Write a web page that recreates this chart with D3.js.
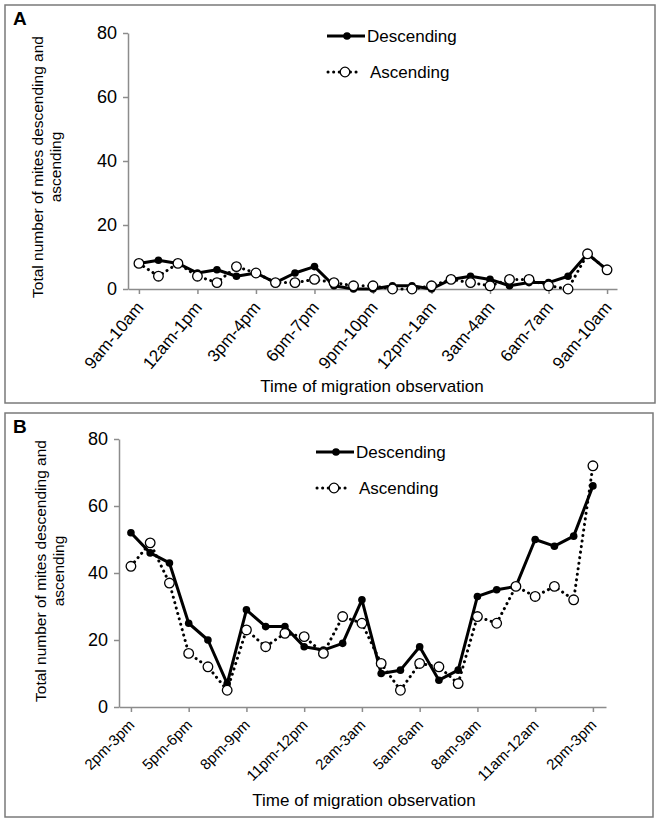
<!DOCTYPE html>
<html>
<head>
<meta charset="utf-8">
<script src="https://cdn.jsdelivr.net/npm/d3@7"></script>
<style>
  body { margin: 0; background: #fff; }
  svg { display: block; font-family: "Liberation Sans", Arial, sans-serif; }
  .axis path, .axis line { stroke: #8c8c8c; stroke-width: 1.5; }
  .axis text { fill: #000; }
</style>
</head>
<body>
<div id="container"></div>
<script>
// panel A data
var labelsA = ["9am-10am", "12am-1pm", "3pm-4pm", "6pm-7pm", "9pm-10pm", "12pm-1am", "3am-4am", "6am-7am", "9am-10am"];
var descA = [8, 9, 8, 5, 6, 4, 5, 2, 5, 7, 1, 0, 0, 1, 1, 0, 3, 4, 3, 1, 2, 2, 4, 11, 6];
var ascA = [8, 4, 8, 4, 2, 7, 5, 2, 2, 3, 2, 1, 1, 0, 0, 1, 3, 2, 1, 3, 3, 1, 0, 11, 6];

// panel B data
var labelsB = ["2pm-3pm", "5pm-6pm", "8pm-9pm", "11pm-12pm", "2am-3am", "5am-6am", "8am-9am", "11am-12am", "2pm-3pm"];
var descB = [52, 46, 43, 25, 20, 7, 29, 24, 24, 18, 17, 19, 32, 10, 11, 18, 8, 11, 33, 35, 36, 50, 48, 51, 66];
var ascB = [42, 49, 37, 16, 12, 5, 23, 18, 22, 21, 16, 27, 25, 13, 5, 13, 12, 7, 27, 25, 36, 33, 36, 32, 72];

var yTicks = [0, 20, 40, 60, 80];
var seriesNames = ["Descending", "Ascending"];

var svg = d3.select("#container").append("svg").attr("width", 660).attr("height", 822);

var drawPanel = function (p) {
    var g = svg.append("g");
    g.append("rect").attr("x", p.box[0]).attr("y", p.box[1]).attr("width", p.box[2]).attr("height", p.box[3])
        .attr("fill", "none").attr("stroke", "#7a7a7a").attr("stroke-width", 1.5);
    g.append("text").attr("x", p.box[0] + 8).attr("y", p.box[1] + 20).attr("font-size", 19)
        .attr("font-weight", "bold").text(p.letter);

    var n = p.desc.length;
    var x = d3.scaleLinear().domain([-p.padL, n - 1 + p.padR]).range([p.left, p.right]);
    var y = d3.scaleLinear().domain([0, 80]).range([p.bottom, p.top]);

    var yAxis = d3.axisLeft(y).tickValues(yTicks).tickSize(5).tickSizeOuter(0).tickPadding(6);
    var ya = g.append("g").attr("class", "axis").attr("transform", "translate(" + p.left + ",0)").call(yAxis);
    ya.selectAll("text").attr("font-size", 18).attr("font-family", "Liberation Sans, Arial, sans-serif");

    var xTickVals = d3.range(0, n, 3);
    var xAxis = d3.axisBottom(x).tickValues(xTickVals).tickSize(5).tickSizeOuter(0)
        .tickFormat(function (d, i) { return p.labels[i]; });
    var xa = g.append("g").attr("class", "axis").attr("transform", "translate(0," + p.bottom + ")").call(xAxis);
    xa.selectAll("text")
        .attr("font-size", p.xFont)
        .attr("font-family", "Liberation Sans, Arial, sans-serif")
        .attr("text-anchor", "end")
        .attr("y", 0).attr("dy", 0)
        .attr("transform", "translate(" + p.lblDx + "," + p.lblDy + ") rotate(" + p.rot + ")");

    // axis titles
    g.append("text").attr("x", p.xTitle[0]).attr("y", p.xTitle[1]).attr("text-anchor", "middle")
        .attr("font-size", 17).text("Time of migration observation");
    var yt = g.append("text").attr("text-anchor", "middle").attr("font-size", 15.5)
        .attr("transform", "translate(" + p.yTitleX + "," + ((p.top + p.bottom) / 2 + p.yTitleDy) + ") rotate(-90)");
    yt.append("tspan").attr("x", 0).attr("y", 0).text("Total number of mites descending and");
    yt.append("tspan").attr("x", 0).attr("y", 18).text("ascending");

    var line = d3.line().x(function (d, i) { return x(i); }).y(function (d) { return y(d); });

    g.append("path").datum(p.asc).attr("d", line).attr("fill", "none").attr("stroke", "#000")
        .attr("stroke-width", 3).attr("stroke-dasharray", "0.1,5.5").attr("stroke-linecap", "round");
    g.append("path").datum(p.desc).attr("d", line).attr("fill", "none").attr("stroke", "#000")
        .attr("stroke-width", 3).attr("stroke-linejoin", "round");

    g.selectAll(".dot-d").data(p.desc).enter().append("circle").attr("class", "dot-d")
        .attr("cx", function (d, i) { return x(i); }).attr("cy", function (d) { return y(d); })
        .attr("r", 3.8).attr("fill", "#000");
    g.selectAll(".dot-a").data(p.asc).enter().append("circle").attr("class", "dot-a")
        .attr("cx", function (d, i) { return x(i); }).attr("cy", function (d) { return y(d); })
        .attr("r", 4.8).attr("fill", "#fff").attr("stroke", "#000").attr("stroke-width", 1.3);

    // legend
    var lg = g.append("g").attr("transform", "translate(" + p.legend[0] + "," + p.legend[1] + ")");
    lg.append("line").attr("x1", 0).attr("x2", 38).attr("y1", 0).attr("y2", 0)
        .attr("stroke", "#000").attr("stroke-width", 3);
    lg.append("circle").attr("cx", 20).attr("cy", 0).attr("r", 3.8).attr("fill", "#000");
    lg.append("text").attr("x", 40).attr("y", 6).attr("font-size", 17).text(seriesNames[0]);
    lg.append("line").attr("x1", 1).attr("x2", 33).attr("y1", 36).attr("y2", 36)
        .attr("stroke", "#000").attr("stroke-width", 3).attr("stroke-dasharray", "0.1,5.5").attr("stroke-linecap", "round");
    lg.append("circle").attr("cx", 18).attr("cy", 36).attr("r", 4.8).attr("fill", "#fff").attr("stroke", "#000").attr("stroke-width", 1.3);
    lg.append("text").attr("x", 43).attr("y", 42).attr("font-size", 17).text(seriesNames[1]);
};

drawPanel({
    letter: "A", box: [5, 5, 650, 398],
    labels: labelsA, desc: descA, asc: ascA,
    left: 128, right: 617, top: 33, bottom: 289, padL: 0.56, padR: 0.51,
    xFont: 17, lblDx: 5, lblDy: 19, rot: -50,
    xTitle: [372, 392], yTitleX: 43, yTitleDy: 6,
    legend: [327, 36]
});

drawPanel({
    letter: "B", box: [5, 413, 648, 404],
    labels: labelsB, desc: descB, asc: ascB,
    left: 119, right: 606, top: 439, bottom: 707, padL: 0.62, padR: 0.68,
    xFont: 15, lblDx: 4, lblDy: 19, rot: -45,
    xTitle: [364, 806], yTitleX: 46, yTitleDy: -2,
    legend: [316, 452]
});
</script>
</body>
</html>
